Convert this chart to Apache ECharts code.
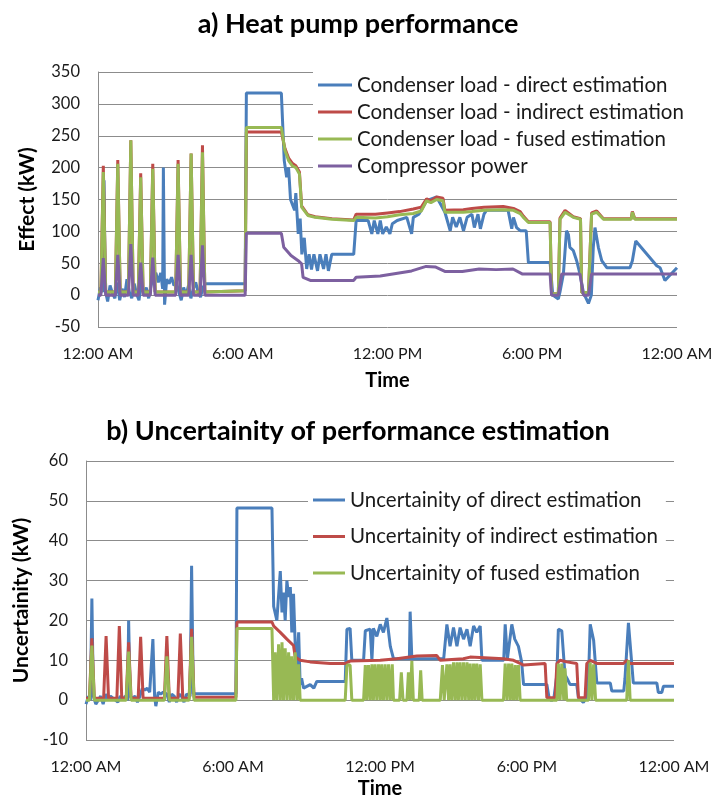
<!DOCTYPE html>
<html>
<head>
<meta charset="utf-8">
<script src="https://cdn.jsdelivr.net/npm/echarts@6/dist/echarts.min.js"></script>
<style>html,body{margin:0;padding:0;background:#fff;}#c{width:716px;height:800px;}</style>
</head>
<body>
<div id="c"></div>
<script>
// ---- axis ticks ----
const hourTicks = [0, 6, 12, 18, 24];
const tickLabels = ['12:00 AM', '6:00 AM', '12:00 PM', '6:00 PM', '12:00 AM'];

// ---- a) Heat pump performance (kW) ----
const directT = [0,0.1,0.2,0.25,0.3,0.4,0.5,0.6,0.7,0.8,0.9,1.0,1.1,1.2,1.3,1.4,1.5,1.6,1.7,1.8,1.9,2.0,2.1,2.2,2.3,2.4,2.5,2.6,2.68,2.71,2.76,2.85,2.95,3.05,3.15,3.25,3.35,3.45,3.55,3.65,3.75,3.85,3.95,4.05,4.15,4.25,4.35,4.45,6.1,6.15,7.6,7.72,7.82,7.9,7.98,8.05,8.15,8.2,8.3,8.38,8.45,8.55,8.65,8.75,8.85,8.95,9.1,9.2,9.35,9.45,9.55,9.69,10.6,10.7,11.2,11.35,11.45,11.6,11.7,11.8,11.95,12.1,12.2,12.4,12.8,13.0,13.07,13.3,13.62,14.04,14.38,14.6,14.7,14.85,15.0,15.15,15.3,15.5,15.6,15.75,15.85,16.0,16.1,16.8,17.0,17.15,17.22,17.35,17.5,17.75,17.84,18.74,18.85,19.08,19.15,19.29,19.42,19.5,19.56,19.7,19.84,19.98,20.12,20.33,20.45,20.53,20.6,20.74,20.88,21.09,22.05,22.15,22.29,23.16,23.3,23.5,23.57,24];
const directV = [-8,12,5,180,8,-10,15,3,-5,20,-8,10,-3,25,5,-5,18,2,-8,22,0,12,-5,15,30,35,20,35,10,200,-15,25,18,28,15,20,5,-8,12,0,15,-5,10,20,5,-3,12,18,18,317,317,211,185,200,150,143,133,160,96,120,64,90,41,64,40,64,38,64,41,64,38,64,64,117,117,96,117,96,117,96,107,96,112,117,122,96,122,127,148,154,130,101,122,107,122,101,122,127,106,127,104,127,133,133,133,104,122,106,101,101,51,51,0,-6,5,33,101,95,75,70,54,33,4,-13,0,75,106,75,54,43,43,54,85,46,43,23,23,43,43];

const indirectT = [0,0.12,0.22,0.32,0.72,0.82,0.92,1.26,1.36,1.46,1.67,1.77,1.87,2.17,2.27,2.37,3.22,3.32,3.42,3.76,3.86,3.96,4.23,4.33,4.43,4.5,6.1,6.15,7.6,7.75,7.9,8.05,8.2,8.35,8.44,8.7,9.0,9.7,10.6,10.7,11.5,12.0,12.5,13.07,13.4,13.62,13.8,14.04,14.3,14.38,15.14,15.5,16.0,16.8,17.22,17.5,17.63,17.84,18.74,18.8,19.08,19.15,19.36,19.7,20.0,20.05,20.33,20.46,20.67,20.95,22.1,22.15,22.25,24];
const indirectV = [5,5,203,5,5,212,5,5,243,5,5,191,5,5,206,5,5,212,5,5,222,5,5,235,5,7,7,256,256,230,215,207,203,193,140,126,123,120,118,127,127,129,131,135,138,151,148,154,152,133,134,136,138,139,136,131,124,115,115,2,2,121,133,123,120,4,4,129,132,120,120,131,120,120];

const fusedT = [0,0.12,0.22,0.32,0.72,0.82,0.92,1.26,1.36,1.46,1.67,1.77,1.87,2.17,2.27,2.37,3.22,3.32,3.42,3.76,3.86,3.96,4.23,4.33,4.43,4.5,6.1,6.15,7.6,7.75,7.9,8.05,8.2,8.35,8.44,8.7,9.0,9.7,10.6,10.7,11.5,12.0,12.5,13.07,13.4,13.62,13.8,14.04,14.3,14.38,15.14,15.5,16.0,16.8,17.22,17.5,17.63,17.84,18.74,18.8,19.08,19.15,19.36,19.7,20.0,20.05,20.33,20.46,20.67,20.95,22.1,22.15,22.25,24];
const fusedV = [5,5,193,5,5,206,5,5,243,5,5,185,5,5,198,5,5,206,5,5,222,5,5,224,5,7,7,263,263,227,211,203,200,190,138,125,122,119,117,122,121,123,126,128,132,148,145,150,148,130,130,131,133,134,133,128,122,114,114,2,2,119,130,122,119,4,4,127,130,119,119,130,119,119];

const compT = [0,0.12,0.22,0.32,0.72,0.82,0.92,1.26,1.36,1.46,1.67,1.77,1.87,2.17,2.27,2.37,3.22,3.32,3.42,3.76,3.86,3.96,4.23,4.33,4.43,6.1,6.15,7.6,7.7,8.0,8.3,8.44,8.5,8.8,10.6,10.7,11.7,13.0,13.6,14.0,14.4,15.1,15.8,16.5,17.2,17.6,18.74,18.8,19.08,19.22,19.98,20.12,20.33,20.46,24];
const compV = [0,0,58,0,0,63,0,0,80,0,0,51,0,0,59,0,0,63,0,0,63,0,0,78,0,0,97,97,75,62,54,49,28,23,23,28,30,38,45,44,37,37,41,40,41,33,33,0,0,33,33,0,0,33,33];

// ---- b) Uncertainity of performance estimation (kW) ----
const uDirectT = [0,0.1,0.18,0.24,0.3,0.4,0.5,0.6,0.7,0.8,0.9,1.0,1.1,1.2,1.3,1.4,1.5,1.6,1.7,1.74,1.8,1.9,2.0,2.1,2.2,2.3,2.4,2.5,2.6,2.73,2.8,2.85,2.95,3.05,3.15,3.3,3.4,3.5,3.6,3.7,3.8,3.9,4.0,4.1,4.25,4.31,4.38,6.12,6.16,7.59,7.66,7.79,7.93,8.0,8.06,8.13,8.2,8.27,8.34,8.4,8.47,8.54,8.61,8.68,8.74,8.8,8.88,9.15,9.3,9.42,9.69,10.58,10.65,10.78,10.85,10.92,11.33,11.4,11.46,11.6,11.67,11.73,11.87,12.01,12.14,12.28,12.42,12.55,13.2,13.23,13.3,14.6,14.73,14.86,15.0,15.14,15.27,15.41,15.55,15.68,15.82,15.95,16.09,16.16,17.05,17.11,17.2,17.38,17.5,17.65,17.78,17.86,18.81,18.9,19.0,19.1,19.22,19.28,19.42,19.55,19.63,19.76,20.03,20.1,20.3,20.42,20.51,20.58,20.72,20.85,21.4,21.46,21.95,22.0,22.14,22.27,22.34,23.3,23.36,23.5,23.57,24];
const uDirectV = [-1,1,0,25.5,1,-1,0,1,-1,1.5,0,1,0.5,0,-0.5,1,0,1,0,20,1,0.5,1,-0.5,1,3,2.5,3,2,15.3,1,-1.5,2,1.5,2,1.5,-0.5,1.5,1,-0.5,1.5,1,-0.5,1.5,1,33.7,1.6,1.6,48.2,48.2,23.5,20,32.4,22,27,20,30,25.9,28.4,17,26.7,13.7,8.8,17,3.9,5.5,3,3.9,3,4.7,4.7,4.7,17.8,18,10,10,10,17.4,17,17.8,10,18,16,19,17,20.6,13.5,10.4,10.4,22.2,10.4,10.4,19,13.5,18.2,13.5,18.2,15.3,17.8,13.5,18.6,17,18.6,10,10,19,10.4,19,15.3,13.5,9.6,3.9,3.9,0.6,-0.2,0.6,6.4,17.8,17.4,6.4,5.5,3.9,3.9,0.6,-0.6,0.6,5.5,19,15,4.3,4.3,2.3,2.3,5.5,19.4,9.6,4.3,4.3,1.9,1.9,3.5,3.5];

const uIndirectT = [0,0.14,0.24,0.34,0.72,0.82,0.92,1.26,1.36,1.46,1.64,1.74,1.84,2.13,2.23,2.33,3.2,3.3,3.4,3.75,3.85,3.95,4.21,4.31,4.41,6.12,6.16,7.59,7.66,7.93,8.2,8.47,8.54,8.74,9.15,9.97,10.58,10.78,12.01,12.69,13.5,14.32,14.46,15.4,15.68,17.04,17.45,17.72,17.86,18.74,18.81,19.15,19.22,19.35,19.62,20.03,20.1,20.37,20.44,20.58,20.85,21.94,22.07,22.21,24];
const uIndirectV = [0.5,0.5,15.5,0.5,0.5,16.1,0.5,0.5,18.6,0.5,0.5,14.5,0.5,0.5,15.9,0.5,0.5,16.1,0.5,0.5,16.7,0.5,0.5,17.9,0.7,0.7,19.6,19.6,18.6,17,15.3,13.7,10.8,10,9.6,9.2,9.2,9.8,10,10.4,11.1,11.2,10,10.4,10.8,10.4,10,9.2,8.8,9.2,0.6,0.6,9.2,10,9.6,9.2,0.6,0.6,9.2,10,9.2,9.2,10,9.2,9.2];

const uFusedT = [0,0.14,0.24,0.34,1.64,1.74,1.84,3.2,3.3,3.4,4.21,4.31,4.41,6.12,6.16,7.59,7.66,7.72,7.79,7.86,7.93,8.0,8.06,8.13,8.2,8.27,8.34,8.4,8.47,8.54,8.61,8.68,8.74,10.58,10.65,10.78,10.85,11.33,11.4,11.46,11.53,11.6,11.67,11.73,11.8,11.87,11.94,12.01,12.07,12.14,12.21,12.28,12.35,12.42,12.5,12.55,12.8,12.87,12.94,13.1,13.16,13.23,13.3,13.36,13.6,13.66,13.72,14.46,14.55,14.62,14.73,14.8,14.86,14.93,15.0,15.07,15.14,15.2,15.27,15.34,15.41,15.48,15.55,15.62,15.68,15.75,15.82,15.88,15.95,16.02,16.09,16.16,17.04,17.11,17.18,17.25,17.32,17.38,17.45,17.52,17.58,17.65,17.72,19.22,19.28,19.35,19.42,19.5,19.55,19.62,20.51,20.58,20.65,20.72,20.8,22.07,22.14,22.21,24];
const uFusedV = [0,0,13.7,0,0,12.2,0,0,11,0,0,15.9,0,0,18,18,0,12,0,14,0,14.5,0,13,0,12,0,11,0,12,0,9,0,0,8.8,8.8,0,0,8.8,0,8.8,0,9,0,9,0,9,0,9,0,9,0,9,0,9,0,0,7,0,0,7,0,9.8,0,0,7.5,0,0,8.8,0,9,0,9,0,9.5,0,9.5,0,9.5,0,9.5,0,9.5,0,9.2,0,9.2,0,9.2,0,9,0,0,9.2,0,9.2,0,9.2,0,8.8,0,8.8,0,0,9.2,0,9.2,0,8,0,0,9.4,0,9,0,0,10,0,0];

const zip = (t, v) => t.map((x, i) => [x, v[i]]);

const COLORS = { blue: '#4A7EBB', red: '#BE4B48', green: '#98B954', purple: '#7D60A0' };
const FONT = 'Lato';
const gridLine = { show: true, lineStyle: { color: '#8c8c8c', width: 1 } };

function xAx(gridIndex, nameGap) {
  return {
    type: 'value', gridIndex, min: 0, max: 24, interval: 6,
    name: 'Time', nameLocation: 'middle', nameGap,
    nameTextStyle: { fontFamily: FONT, fontWeight: 'bold', fontSize: 20, color: '#000' },
    axisLine: { show: false, onZero: false }, axisTick: { show: false }, splitLine: { show: false },
    axisLabel: { margin: 19, fontFamily: FONT, fontSize: 16, color: '#1a1a1a',
      formatter: v => { const i = hourTicks.indexOf(v); return i >= 0 ? tickLabels[i] : ''; } }
  };
}
function yAx(gridIndex, name, min, max, interval, nameGap) {
  return {
    type: 'value', gridIndex, min, max, interval,
    name, nameLocation: 'middle', nameGap,
    nameTextStyle: { fontFamily: FONT, fontWeight: 'bold', fontSize: 21, color: '#000' },
    axisLine: { show: true, lineStyle: { color: '#8c8c8c', width: 1 } },
    axisTick: { show: false }, splitLine: gridLine,
    axisLabel: { margin: 18, fontFamily: FONT, fontSize: 16.5, color: '#1a1a1a' }
  };
}
function line(name, data, color, xi) {
  return { name, type: 'line', data, xAxisIndex: xi, yAxisIndex: xi, symbol: 'none', showSymbol: false,
    lineStyle: { color, width: 3 }, itemStyle: { color }, animation: false };
}

const chart = echarts.init(document.getElementById('c'), null, { renderer: 'canvas' });
chart.setOption({
  animation: false,
  backgroundColor: '#fff',
  title: [
    { text: 'a) Heat pump performance', left: 'center', top: 6,
      textStyle: { fontFamily: FONT, fontWeight: 'bold', fontSize: 27, color: '#000' } },
    { text: 'b) Uncertainity of performance estimation', left: 'center', top: 413,
      textStyle: { fontFamily: FONT, fontWeight: 'bold', fontSize: 27, color: '#000' } }
  ],
  grid: [
    { left: 98, right: 39, top: 72, height: 255 },
    { left: 86, right: 42, top: 461, height: 285 }
  ],
  xAxis: [xAx(0, 44), xAx(1, 39)],
  yAxis: [yAx(0, 'Effect (kW)', -50, 350, 50, 60), yAx(1, 'Uncertainity (kW)', -10, 60, 10, 49)],
  legend: [
    { orient: 'vertical', left: 313, top: 69, padding: [5, 8, 5, 5], backgroundColor: '#fff',
      itemWidth: 34, itemHeight: 3, itemGap: 5, icon: 'rect',
      textStyle: { fontFamily: FONT, fontSize: 20.5, color: '#1a1a1a', lineHeight: 22 },
      data: ['Condenser load - direct estimation', 'Condenser load - indirect estimation',
             'Condenser load - fused estimation', 'Compressor power'] },
    { orient: 'vertical', left: 308, top: 478, padding: [11, 8, 10, 5], backgroundColor: '#fff',
      itemWidth: 32, itemHeight: 3, itemGap: 14.5, icon: 'rect',
      textStyle: { fontFamily: FONT, fontSize: 20.5, color: '#1a1a1a', lineHeight: 22 },
      data: ['Uncertainity of direct estimation', 'Uncertainity of indirect estimation',
             'Uncertainity of fused estimation'] }
  ],
  series: [
    line('Condenser load - direct estimation', zip(directT, directV), COLORS.blue, 0),
    line('Condenser load - indirect estimation', zip(indirectT, indirectV), COLORS.red, 0),
    line('Condenser load - fused estimation', zip(fusedT, fusedV), COLORS.green, 0),
    line('Compressor power', zip(compT, compV), COLORS.purple, 0),
    line('Uncertainity of direct estimation', zip(uDirectT, uDirectV), COLORS.blue, 1),
    line('Uncertainity of indirect estimation', zip(uIndirectT, uIndirectV), COLORS.red, 1),
    line('Uncertainity of fused estimation', zip(uFusedT, uFusedV), COLORS.green, 1)
  ]
});
</script>
</body>
</html>
